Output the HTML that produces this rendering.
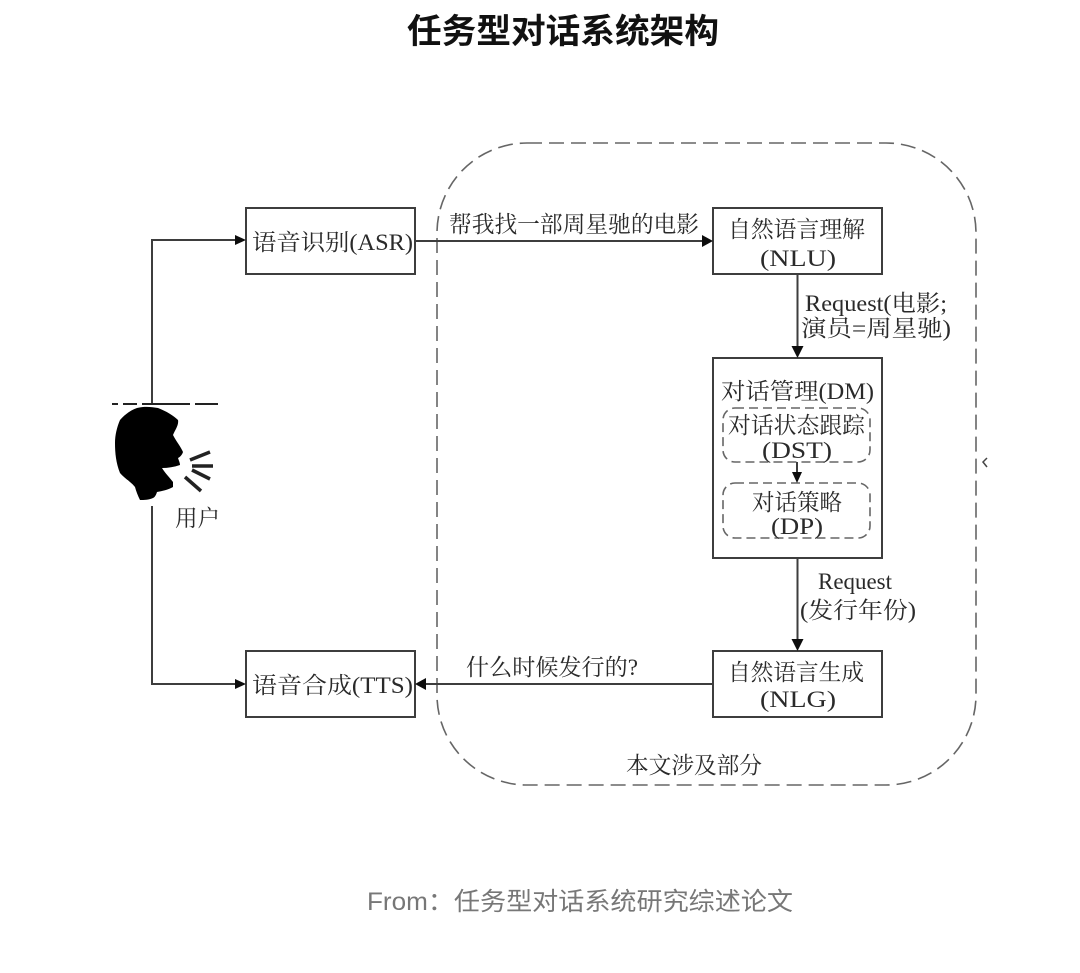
<!DOCTYPE html>
<html lang="zh">
<head>
<meta charset="utf-8">
<style>
html,body{margin:0;padding:0;background:#fff;width:1080px;height:973px;overflow:hidden}
svg{display:block}
.s{font-family:"Liberation Serif","Noto Serif CJK SC",serif;font-size:23px;fill:#2a2a2a}
.h{font-family:"Liberation Sans","Noto Sans CJK SC",sans-serif}
.box{fill:none;stroke:#3c3c3c;stroke-width:2}
.ln{fill:none;stroke:#3c3c3c;stroke-width:2}
.d{fill:none;stroke:#666;stroke-width:1.6}
</style>
</head>
<body>
<svg width="1080" height="973" viewBox="0 0 1080 973" xmlns="http://www.w3.org/2000/svg">
<defs><filter id="b" x="-5%" y="-5%" width="110%" height="110%"><feGaussianBlur stdDeviation="0.35"/></filter></defs>
<text class="h" x="407" y="43" font-size="34" font-weight="700" fill="#111" textLength="312" lengthAdjust="spacingAndGlyphs">任务型对话系统架构</text>
<g filter="url(#b)">
<rect class="d" x="437" y="143" width="539" height="642" rx="90" ry="90" stroke-dasharray="15 7"/>
<rect class="box" x="246" y="208" width="169" height="66"/>
<rect class="box" x="713" y="208" width="169" height="66"/>
<rect class="box" x="713" y="358" width="169" height="200"/>
<rect class="box" x="713" y="651" width="169" height="66"/>
<rect class="box" x="246" y="651" width="169" height="66"/>
<rect class="d" x="723" y="408" width="147" height="54" rx="12" stroke-dasharray="9 5"/>
<rect class="d" x="723" y="483" width="147" height="55" rx="12" stroke-dasharray="9 5"/>
<path class="ln" d="M152 404V240H236M152 506V684H236M415 241H703M713 684H425M797.500 274V348M797.500 558V641M797 462V472"/>
<path fill="#111" d="M246 240l-11-5v10zM246 684l-11-5v10zM713 241l-11-6v12zM415 684l11-6v12zM797.500 358l-6-12h12zM797.500 651l-6-12h12zM797 483l-5-11h10z"/>
<path d="M112 404H118M123 404H137M142 404H190M195 404H218" stroke="#222" stroke-width="2" fill="none"/>
<path fill="#000" d="M137 408C145 406 152 407 158 408C166 411 174 416 178 420C179 425 175 430 173 435C176 441 181 447 183 452C182 455 180 457 178 458C179 461 180 463 180 465C174 467 168 468 162 468C165 473 170 478 173 482V487C168 490 162 491 157 492C156 495 155 497 153 498C149 500 144 500 140 500C138 496 136 491 135 487C130 481 124 478 120 473C116 463 115 453 115 443C115 435 117 427 120 420C124 415 131 410 137 408Z"/>
<path stroke="#222" stroke-width="3.500" fill="none" d="M190 460L210 452M192 466H213M192 470L210 479M185 477L201 491"/>
<text class="s" x="175" y="526" textLength="45" lengthAdjust="spacingAndGlyphs">用户</text>
<text class="s" x="252" y="250" textLength="161" lengthAdjust="spacingAndGlyphs">语音识别(ASR)</text>
<text class="s" x="449" y="232" textLength="250" lengthAdjust="spacingAndGlyphs">帮我找一部周星驰的电影</text>
<text class="s" x="728" y="237" textLength="137" lengthAdjust="spacingAndGlyphs">自然语言理解</text>
<text class="s" x="760" y="266" textLength="76" lengthAdjust="spacingAndGlyphs">(NLU)</text>
<text class="s" x="805" y="311" textLength="142" lengthAdjust="spacingAndGlyphs">Request(电影;</text>
<text class="s" x="801" y="336" textLength="150" lengthAdjust="spacingAndGlyphs">演员=周星驰)</text>
<text class="s" x="721" y="399" textLength="153" lengthAdjust="spacingAndGlyphs">对话管理(DM)</text>
<text class="s" x="728" y="433" textLength="137" lengthAdjust="spacingAndGlyphs">对话状态跟踪</text>
<text class="s" x="762" y="458" textLength="70" lengthAdjust="spacingAndGlyphs">(DST)</text>
<text class="s" x="752" y="510" textLength="90" lengthAdjust="spacingAndGlyphs">对话策略</text>
<text class="s" x="771" y="534" textLength="52" lengthAdjust="spacingAndGlyphs">(DP)</text>
<text class="s" x="818" y="589" textLength="74" lengthAdjust="spacingAndGlyphs">Request</text>
<text class="s" x="800" y="618" textLength="116" lengthAdjust="spacingAndGlyphs">(发行年份)</text>
<text class="s" x="466" y="675" textLength="172" lengthAdjust="spacingAndGlyphs">什么时候发行的?</text>
<text class="s" x="728" y="680" textLength="136" lengthAdjust="spacingAndGlyphs">自然语言生成</text>
<text class="s" x="760" y="707" textLength="76" lengthAdjust="spacingAndGlyphs">(NLG)</text>
<text class="s" x="252" y="693" textLength="161" lengthAdjust="spacingAndGlyphs">语音合成(TTS)</text>
<text class="s" x="626" y="773" textLength="136" lengthAdjust="spacingAndGlyphs">本文涉及部分</text>
<path d="M987 458L983 462L987 467" fill="none" stroke="#444" stroke-width="1.500"/>
</g>
<text class="h" x="367" y="910" font-size="25" fill="#777" textLength="426" lengthAdjust="spacingAndGlyphs">From：任务型对话系统研究综述论文</text>
</svg>
</body>
</html>
